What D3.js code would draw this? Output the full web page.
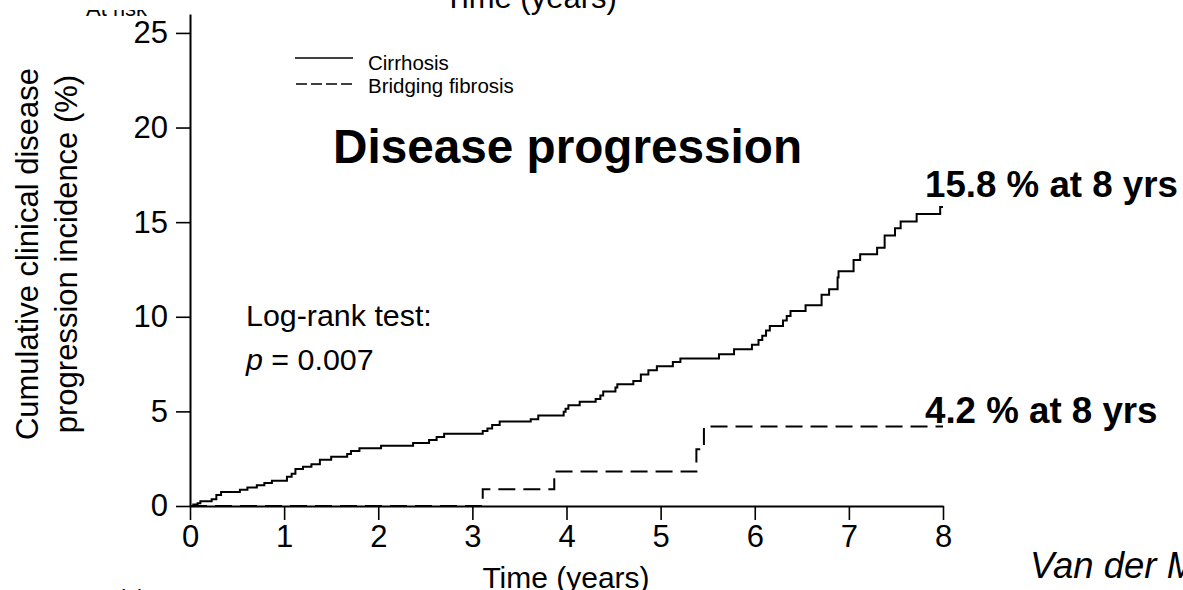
<!DOCTYPE html>
<html>
<head>
<meta charset="utf-8">
<script src="https://cdn.jsdelivr.net/npm/d3@7/dist/d3.min.js"></script>
<style>
  html, body { margin: 0; padding: 0; background: #fff; }
  svg { display: block; font-family: "Liberation Sans", Arial, sans-serif; }
</style>
</head>
<body>
<svg id="chart" width="1183" height="590"></svg>
<script>
// Kaplan–Meier style cumulative incidence (%), step times in years
const cirrhosisTimes = [0, 0.035, 0.08, 0.11, 0.23, 0.28, 0.33, 0.53, 0.61, 0.71, 0.79, 0.87,
  1.03, 1.08, 1.12, 1.20, 1.29, 1.38, 1.50, 1.67, 1.71, 1.80, 2.03, 2.37, 2.54, 2.62, 2.70,
  3.11, 3.16, 3.21, 3.29, 3.62, 3.70, 3.97, 3.99, 4.02, 4.14, 4.31, 4.36, 4.39, 4.52, 4.54,
  4.71, 4.79, 4.87, 4.96, 5.13, 5.21, 5.62, 5.78, 5.97, 6.04, 6.08, 6.12, 6.16, 6.30, 6.34,
  6.38, 6.54, 6.71, 6.79, 6.88, 6.89, 7.05, 7.12, 7.30, 7.38, 7.49, 7.55, 7.72, 7.97, 8.0];
const cirrhosisPct = [0, 0.08, 0.15, 0.25, 0.36, 0.58, 0.74, 0.86, 0.98, 1.10, 1.22, 1.34,
  1.55, 1.70, 1.95, 2.08, 2.20, 2.45, 2.60, 2.75, 2.90, 3.05, 3.18, 3.33, 3.49, 3.64, 3.82,
  3.96, 4.10, 4.28, 4.46, 4.59, 4.78, 4.98, 5.14, 5.32, 5.51, 5.66, 5.84, 6.05, 6.26, 6.43,
  6.60, 6.95, 7.17, 7.38, 7.61, 7.80, 8.02, 8.28, 8.52, 8.77, 9.00, 9.27, 9.51, 9.80, 10.04,
  10.30, 10.61, 11.17, 11.46, 12.07, 12.40, 13.00, 13.30, 13.65, 14.30, 14.68, 15.03, 15.43, 15.8, 15.8];

const bridgingTimes = [0, 3.11, 3.87, 5.38, 5.46, 8.0];
const bridgingPct   = [0, 0.88, 1.82, 3.0, 4.2, 4.2];

const xTicks = [0, 1, 2, 3, 4, 5, 6, 7, 8];
const yTicks = [0, 5, 10, 15, 20, 25];

const seriesNames = ["Cirrhosis", "Bridging fibrosis"];
const finalLabels = ["15.8 % at 8 yrs", "4.2 % at 8 yrs"];

const svg = d3.select("#chart");
svg.append("rect").attr("width", 1183).attr("height", 590).attr("fill", "#fff");

const x = d3.scaleLinear().domain([0, 8]).range([190, 943]);
const y = d3.scaleLinear().domain([0, 26]).range([506, 14]);

// fragments of the neighbouring panels, cut by the slide edges
svg.append("clipPath").attr("id", "topStrip")
  .append("rect").attr("x", 0).attr("y", 10).attr("width", 180).attr("height", 10);
svg.append("text").attr("x", 86).attr("y", 16).attr("font-size", 22)
  .attr("clip-path", "url(#topStrip)").text("At risk");
svg.append("text").attr("x", 444).attr("y", 8).attr("font-size", 31).text("Time (years)");
svg.append("text").attr("x", 87).attr("y", 605).attr("font-size", 22).text("At risk");

// axes
const yAxis = d3.axisLeft(y).tickValues(yTicks).tickSize(14).tickSizeOuter(0).tickPadding(8);
const xAxis = d3.axisBottom(x).tickValues(xTicks).tickSize(14).tickSizeOuter(0).tickPadding(5);

const gy = svg.append("g").attr("transform", `translate(${x(0)},0)`).call(yAxis);
const gx = svg.append("g").attr("transform", `translate(0,${y(0)})`).call(xAxis);
[gx, gy].forEach(g => {
  g.selectAll("path.domain").attr("stroke", "#000").attr("stroke-width", 2);
  g.selectAll(".tick line").attr("stroke", "#000").attr("stroke-width", 1.6);
  g.selectAll(".tick text").attr("fill", "#000").attr("font-size", 31)
    .attr("font-family", "Liberation Sans, Arial, sans-serif");
});

// axis titles
svg.append("text").attr("x", 566).attr("y", 588).attr("text-anchor", "middle")
  .attr("font-size", 30).text("Time (years)");
const yt = svg.append("text").attr("transform", "translate(38,254) rotate(-90)")
  .attr("text-anchor", "middle").attr("font-size", 31);
yt.append("tspan").attr("x", 0).attr("dy", 0).text("Cumulative clinical disease");
yt.append("tspan").attr("x", 0).attr("dy", 39).text("progression incidence (%)");

// step curves
const line = d3.line().curve(d3.curveStepAfter).x(d => x(d[0])).y(d => y(d[1]));
svg.append("path").datum(bridgingTimes.map((t, i) => [t, bridgingPct[i]]))
  .attr("d", line).attr("fill", "none").attr("stroke", "#000")
  .attr("stroke-width", 2).attr("stroke-dasharray", "17,8");
svg.append("path").datum(cirrhosisTimes.map((t, i) => [t, cirrhosisPct[i]]))
  .attr("d", line).attr("fill", "none").attr("stroke", "#000")
  .attr("stroke-width", 2);

// legend
const legend = svg.append("g");
legend.append("line").attr("x1", 295).attr("x2", 353).attr("y1", 58).attr("y2", 58)
  .attr("stroke", "#000").attr("stroke-width", 1.6);
legend.append("line").attr("x1", 296).attr("x2", 353).attr("y1", 84).attr("y2", 84)
  .attr("stroke", "#000").attr("stroke-width", 1.6).attr("stroke-dasharray", "11,4");
legend.append("text").attr("x", 368).attr("y", 70).attr("font-size", 20.5).text(seriesNames[0]);
legend.append("text").attr("x", 368).attr("y", 93).attr("font-size", 20.5).text(seriesNames[1]);

// title and annotations
svg.append("text").attr("x", 333).attr("y", 163).attr("font-size", 47.7)
  .attr("font-weight", "bold").text("Disease progression");
svg.append("text").attr("x", 925).attr("y", 197).attr("font-size", 36.7)
  .attr("font-weight", "bold").text(finalLabels[0]);
svg.append("text").attr("x", 925).attr("y", 423).attr("font-size", 36.7)
  .attr("font-weight", "bold").text(finalLabels[1]);

svg.append("text").attr("x", 246).attr("y", 326).attr("font-size", 30.4).text("Log-rank test:");
const pt = svg.append("text").attr("x", 246).attr("y", 370).attr("font-size", 30.4);
pt.append("tspan").attr("font-style", "italic").text("p");
pt.append("tspan").text(" = 0.007");

svg.append("text").attr("x", 1030).attr("y", 578).attr("font-size", 36.5)
  .attr("font-style", "italic").text("Van der Meer et al.");
</script>
</body>
</html>
